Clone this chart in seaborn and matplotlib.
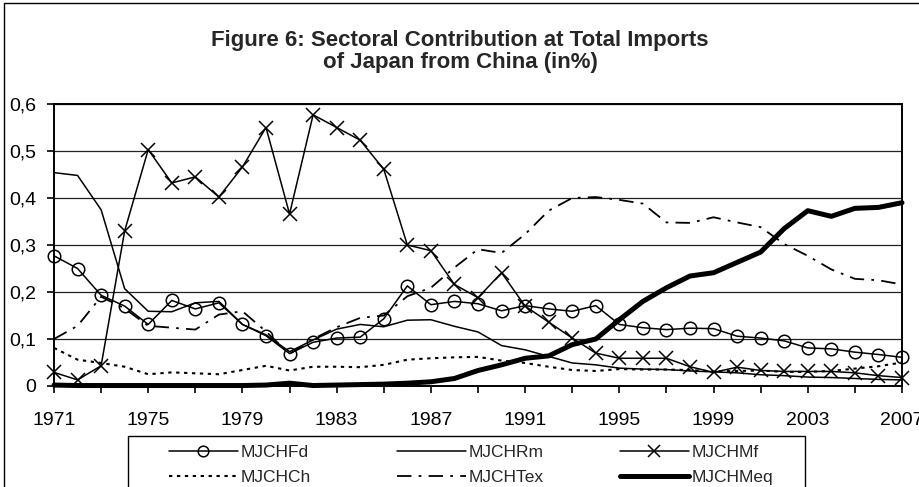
import matplotlib
matplotlib.use("Agg")
import matplotlib.pyplot as plt
import seaborn as sns
import pandas as pd
from matplotlib.lines import Line2D
from matplotlib.patches import Rectangle
from matplotlib.ticker import FuncFormatter, MultipleLocator, FixedLocator

years = list(range(1971, 2008))

fd = [0.277, 0.250, 0.193, 0.170, 0.131, 0.182, 0.164, 0.177, 0.131, 0.107,
      0.069, 0.093, 0.102, 0.104, 0.143, 0.213, 0.173, 0.180, 0.175, 0.160,
      0.171, 0.164, 0.159, 0.171, 0.131, 0.124, 0.120, 0.123, 0.122, 0.106,
      0.102, 0.096, 0.081, 0.079, 0.072, 0.067, 0.061]
rm = [0.454, 0.448, 0.375, 0.207, 0.159, 0.158, 0.177, 0.180, 0.131, 0.109,
      0.073, 0.098, 0.121, 0.131, 0.126, 0.140, 0.141, 0.127, 0.115, 0.086,
      0.077, 0.063, 0.049, 0.045, 0.038, 0.036, 0.035, 0.032, 0.030, 0.028,
      0.024, 0.022, 0.019, 0.018, 0.016, 0.014, 0.013]
mf = [0.029, 0.013, 0.043, 0.330, 0.503, 0.432, 0.445, 0.402, 0.466, 0.550,
      0.366, 0.577, 0.550, 0.523, 0.461, 0.300, 0.288, 0.216, 0.188, 0.241,
      0.170, 0.136, 0.102, 0.070, 0.059, 0.059, 0.059, 0.041, 0.029, 0.040,
      0.033, 0.031, 0.031, 0.031, 0.028, 0.022, 0.018]
ch = [0.081, 0.056, 0.049, 0.041, 0.025, 0.029, 0.027, 0.025, 0.034, 0.043,
      0.033, 0.041, 0.041, 0.040, 0.045, 0.056, 0.059, 0.061, 0.062, 0.054,
      0.049, 0.041, 0.034, 0.032, 0.036, 0.035, 0.035, 0.034, 0.031, 0.032,
      0.033, 0.030, 0.030, 0.032, 0.037, 0.042, 0.050]
tex = [0.100, 0.128, 0.190, 0.165, 0.128, 0.124, 0.120, 0.152, 0.159, 0.116,
       0.068, 0.100, 0.125, 0.145, 0.150, 0.191, 0.209, 0.252, 0.291, 0.283,
       0.323, 0.373, 0.400, 0.402, 0.396, 0.388, 0.348, 0.347, 0.359, 0.348,
       0.338, 0.302, 0.277, 0.248, 0.228, 0.225, 0.216]
meq = [0.002, 0.001, 0.001, 0.001, 0.001, 0.001, 0.001, 0.001, 0.001, 0.002,
       0.006, 0.001, 0.002, 0.003, 0.004, 0.006, 0.009, 0.016, 0.033, 0.045,
       0.059, 0.064, 0.088, 0.100, 0.141, 0.180, 0.209, 0.234, 0.241, 0.263,
       0.285, 0.335, 0.373, 0.361, 0.378, 0.380, 0.390]

series_names = ["MJCHFd", "MJCHRm", "MJCHMf", "MJCHCh", "MJCHTex", "MJCHMeq"]
title_lines = ["Figure 6: Sectoral Contribution at Total Imports",
               "of Japan from China (in%)"]

sns.set_theme(style="white")
plt.rcParams["font.family"] = ["Liberation Sans", "DejaVu Sans"]

W, H = 920, 487
fig = plt.figure(figsize=(W / 100, H / 100), dpi=100)
ax = fig.add_axes([54 / W, 1 - 386 / H, 848 / W, 282 / H])

styles = {
    "MJCHFd": dict(lw=1.1, ls="-", marker="o", ms=9, mfc="none", mew=1.1),
    "MJCHRm": dict(lw=1.1, ls="-"),
    "MJCHMf": dict(lw=1.1, ls="-", marker="x", ms=10, mew=1.1),
    "MJCHCh": dict(lw=1.5, ls=(0, (1.6, 2.2))),
    "MJCHTex": dict(lw=1.3, ls=(0, (8, 4, 1.5, 4))),
    "MJCHMeq": dict(lw=3.6, ls="-"),
}
values = {"MJCHFd": fd, "MJCHRm": rm, "MJCHMf": mf,
          "MJCHCh": ch, "MJCHTex": tex, "MJCHMeq": meq}

for name in series_names:
    st = styles[name]
    kw = dict(color="black", linewidth=st["lw"], linestyle=st["ls"], clip_on=False)
    if "marker" in st:
        kw.update(marker=st["marker"], markersize=st["ms"],
                  markerfacecolor=st.get("mfc", "black"),
                  markeredgecolor="black", markeredgewidth=st["mew"])
    sns.lineplot(x=years, y=values[name], ax=ax, **kw)

ax.set_xlim(1971, 2007)
ax.set_ylim(0, 0.6)
ax.yaxis.set_major_locator(MultipleLocator(0.1))
ax.yaxis.set_major_formatter(FuncFormatter(
    lambda v, p: "0" if abs(v) < 1e-9 else f"{v:.1f}".replace(".", ",")))
ax.xaxis.set_major_locator(FixedLocator(list(range(1971, 2008, 2))))
ax.xaxis.set_major_formatter(FuncFormatter(
    lambda v, p: str(int(round(v))) if int(round(v - 1971)) % 4 == 0 else ""))
ax.grid(axis="y", color="#222222", linewidth=0.9)
ax.grid(axis="x", visible=False)
for s in ax.spines.values():
    s.set_color("black")
    s.set_linewidth(1.4)
ax.tick_params(axis="both", direction="out", length=5, width=1.2, color="black",
               labelsize=14, labelcolor="black")
ax.tick_params(axis="x", pad=14, bottom=True)
ax.tick_params(axis="y", pad=8, left=True)
ax.set_xlabel("")
ax.set_ylabel("")

fig.text(460 / W, 1 - 46 / H, title_lines[0], ha="center", va="baseline",
         fontsize=16, fontweight="bold")
fig.text(460 / W, 1 - 68 / H, title_lines[1], ha="center", va="baseline",
         fontsize=16, fontweight="bold")

def handle(name):
    st = styles[name]
    kw = dict(color="black", linewidth=st["lw"], linestyle=st["ls"])
    if "marker" in st:
        kw.update(marker=st["marker"], markersize=st["ms"] * 0.85,
                  markerfacecolor=st.get("mfc", "black"),
                  markeredgecolor="black", markeredgewidth=st["mew"])
    return Line2D([], [], **kw)

cols = [("MJCHFd", "MJCHCh"), ("MJCHRm", "MJCHTex"), ("MJCHMf", "MJCHMeq")]
col_x = [160, 388, 611]
for i, (a, b) in enumerate(cols):
    fig.legend([handle(a), handle(b)], [a, b], loc="upper left",
               bbox_to_anchor=(col_x[i] / W, 1 - 436 / H),
               frameon=False, fontsize=12.5, handlelength=4.0,
               handletextpad=0.15, borderpad=0, labelspacing=0.6,
               numpoints=1)
fig.add_artist(Rectangle((128 / W, -0.05), (805 - 128) / W, (0.05 + 1 - 436 / H),
                         transform=fig.transFigure, fill=False,
                         edgecolor="black", linewidth=1.0))
fig.add_artist(Rectangle((4 / W, -0.05), 1.2, 0.05 + 1 - 3 / H,
                         transform=fig.transFigure, fill=False,
                         edgecolor="black", linewidth=1.0))

fig.savefig("out.png", dpi=100)
